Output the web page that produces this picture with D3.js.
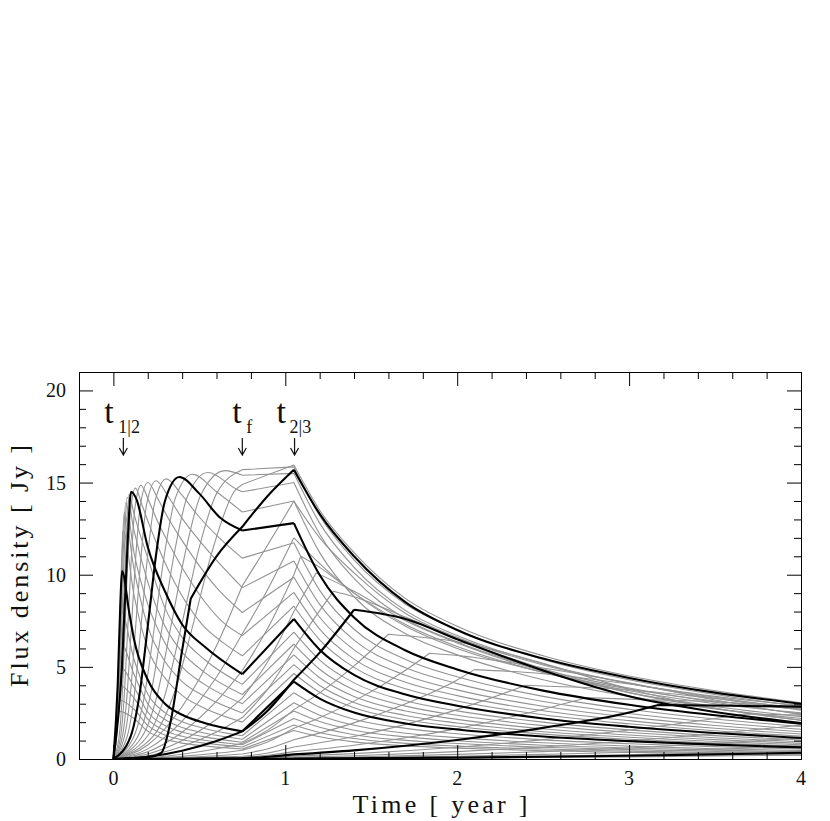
<!DOCTYPE html>
<html><head><meta charset="utf-8">
<script src="https://cdn.jsdelivr.net/npm/d3@7"></script>
<style>body{margin:0;background:#fff}</style>
</head><body>
<svg id="chart" width="830" height="821"></svg>
<script>
// ---------------- DATA (time [yr], flux density [Jy]) ----------------
const xMajorTicks = [0, 1, 2, 3, 4];
const yMajorTicks = [0, 5, 10, 15, 20];
const markerTimes = [0.058, 0.75, 1.054];
const markerSubs = ["1|2", "f", "2|3"];

// very high frequency light curves (grey)
const greyUltra = [
  [[0,0],[0.016,0.91],[0.0256,2.08],[0.032,2.6],[0.12,2.2],[0.2,1.51],[0.3,1.08],[0.4,0.86],[0.53,0.71],[0.75,0.54],[1.05,1.55],[1.2,1.21],[1.4,0.93],[1.7,0.71],[2.0,0.59],[2.5,0.45],[3.0,0.36],[3.5,0.29],[4.0,0.23]],
  [[0,0],[0.017,1.12],[0.027,2.56],[0.034,3.2],[0.12,2.7],[0.2,1.82],[0.3,1.3],[0.4,1.04],[0.53,0.86],[0.75,0.65],[1.05,1.85],[1.2,1.44],[1.4,1.11],[1.7,0.85],[2.0,0.70],[2.5,0.54],[3.0,0.43],[3.5,0.34],[4.0,0.28]],
  [[0,0],[0.0185,1.4],[0.0296,3.2],[0.037,4.0],[0.12,3.3],[0.2,2.16],[0.3,1.54],[0.4,1.23],[0.53,1.02],[0.75,0.77],[1.05,2.2],[1.2,1.72],[1.4,1.32],[1.7,1.01],[2.0,0.84],[2.5,0.64],[3.0,0.51],[3.5,0.41],[4.0,0.33]],
  [[0,0],[0.02,1.75],[0.032,4.0],[0.04,5.0],[0.12,3.9],[0.2,2.55],[0.3,1.82],[0.4,1.46],[0.53,1.2],[0.75,0.91],[1.05,2.6],[1.2,2.03],[1.4,1.56],[1.7,1.2],[2.0,0.99],[2.5,0.75],[3.0,0.6],[3.5,0.48],[4.0,0.39]],
  [[0,0],[0.0215,2.2],[0.0344,5.04],[0.043,6.3],[0.12,4.6],[0.2,3.0],[0.3,2.14],[0.4,1.71],[0.53,1.41],[0.75,1.07],[1.05,3.05],[1.2,2.38],[1.4,1.83],[1.7,1.4],[2.0,1.16],[2.5,0.88],[3.0,0.7],[3.5,0.56],[4.0,0.46]],
  [[0,0],[0.023,2.8],[0.0368,6.4],[0.046,8.0],[0.12,5.4],[0.2,3.53],[0.3,2.52],[0.4,2.02],[0.53,1.66],[0.75,1.26],[1.05,3.6],[1.2,2.81],[1.4,2.16],[1.7,1.66],[2.0,1.37],[2.5,1.04],[3.0,0.83],[3.5,0.67],[4.0,0.54]]
];
const blackB1 = [[0,0],[0.025,4.0],[0.04,8.3],[0.05,10.2],[0.093,7.9],[0.12,6.5],[0.2,4.3],[0.3,3.0],[0.4,2.4],[0.53,1.95],[0.75,1.5],[1.05,4.2],[1.2,3.28],[1.4,2.52],[1.7,1.93],[2.0,1.6],[2.5,1.22],[3.0,0.97],[3.5,0.78],[4.0,0.63]];
const greyB1B2 = [
  [[0,0],[0.028,4.34],[0.045,9.9],[0.056,12.4],[0.12,8.9],[0.2,6.0],[0.3,4.4],[0.4,3.45],[0.53,2.75],[0.75,2.0],[1.05,4.64],[1.2,3.62],[1.4,2.78],[1.7,2.13],[2.0,1.76],[2.5,1.35],[3.0,1.07],[3.5,0.86],[4.0,0.7]],
  [[0,0],[0.0315,4.69],[0.05,10.7],[0.063,13.4],[0.12,10.3],[0.2,7.2],[0.3,5.3],[0.4,4.2],[0.53,3.4],[0.75,2.5],[1.05,5.12],[1.2,3.99],[1.4,3.07],[1.7,2.36],[2.0,1.95],[2.5,1.48],[3.0,1.18],[3.5,0.95],[4.0,0.77]],
  [[0,0],[0.0355,4.87],[0.057,11.1],[0.071,13.9],[0.12,11.2],[0.2,8.4],[0.3,6.3],[0.4,5.0],[0.53,4.05],[0.75,3.0],[1.05,5.65],[1.2,4.41],[1.4,3.39],[1.7,2.6],[2.0,2.15],[2.5,1.64],[3.0,1.3],[3.5,1.05],[4.0,0.85]],
  [[0,0],[0.04,4.97],[0.064,11.4],[0.08,14.2],[0.12,12.4],[0.2,9.6],[0.3,7.2],[0.4,5.8],[0.53,4.7],[0.75,3.5],[1.05,6.24],[1.2,4.87],[1.4,3.74],[1.7,2.87],[2.0,2.37],[2.5,1.81],[3.0,1.44],[3.5,1.15],[4.0,0.94]],
  [[0,0],[0.0455,5.0],[0.073,11.5],[0.091,14.35],[0.12,13.3],[0.2,10.9],[0.3,8.2],[0.4,6.6],[0.53,5.4],[0.75,4.05],[1.05,6.88],[1.2,5.37],[1.4,4.13],[1.7,3.16],[2.0,2.61],[2.5,2.0],[3.0,1.58],[3.5,1.27],[4.0,1.03]]
];
const blackB2 = [[0,0],[0.05,5.0],[0.082,11.6],[0.103,14.5],[0.134,14.1],[0.2,11.5],[0.3,9.1],[0.4,7.3],[0.53,6.1],[0.75,4.6],[1.05,7.6],[1.2,5.93],[1.4,4.56],[1.7,3.5],[2.0,2.89],[2.5,2.2],[3.0,1.75],[3.5,1.41],[4.0,1.14]];
const greyB2B3 = [
  [[0,0],[0.033,1.18],[0.05,3.23],[0.067,6.9],[0.083,10.7],[0.1,13.45],[0.128,14.7],[0.166,13.8],[0.205,12.8],[0.256,11.6],[0.384,9.1],[0.512,7.35],[0.64,6.3],[0.75,5.6],[1.05,8.29],[1.2,6.47],[1.4,4.97],[1.7,3.81],[2.0,3.15],[2.5,2.4],[3.0,1.91],[3.5,1.53],[4.0,1.24]],
  [[0,0],[0.042,1.19],[0.062,3.27],[0.083,6.98],[0.104,10.84],[0.125,13.59],[0.16,14.85],[0.208,13.96],[0.256,12.92],[0.32,11.73],[0.48,9.2],[0.64,7.4],[0.75,6.7],[1.05,9.04],[1.2,7.05],[1.4,5.42],[1.7,4.16],[2.0,3.44],[2.5,2.62],[3.0,2.08],[3.5,1.67],[4.0,1.36]],
  [[0,0],[0.052,1.2],[0.078,3.3],[0.104,7.05],[0.13,10.95],[0.156,13.7],[0.2,15.0],[0.26,14.1],[0.32,13.05],[0.4,11.85],[0.6,9.3],[0.75,7.95],[1.05,9.86],[1.2,7.69],[1.4,5.92],[1.7,4.54],[2.0,3.75],[2.5,2.86],[3.0,2.27],[3.5,1.82],[4.0,1.48]],
  [[0,0],[0.064,1.21],[0.097,3.32],[0.129,7.1],[0.161,11.0],[0.193,13.8],[0.248,15.1],[0.322,14.2],[0.397,13.1],[0.496,11.9],[0.75,9.3],[1.05,10.75],[1.2,8.39],[1.4,6.45],[1.7,4.95],[2.0,4.09],[2.5,3.12],[3.0,2.47],[3.5,1.99],[4.0,1.61]],
  [[0,0],[0.08,1.22],[0.12,3.34],[0.16,7.14],[0.2,11.1],[0.24,13.9],[0.308,15.2],[0.4,14.3],[0.493,13.2],[0.616,12.0],[0.75,10.9],[1.05,11.73],[1.2,9.15],[1.4,7.04],[1.7,5.4],[2.0,4.46],[2.5,3.4],[3.0,2.7],[3.5,2.17],[4.0,1.76]]
];
const blackB3 = [[0,0],[0.1,1.22],[0.15,3.37],[0.2,7.2],[0.25,11.2],[0.3,14.0],[0.384,15.3],[0.5,14.4],[0.62,13.1],[0.75,12.4],[1.05,12.8],[1.2,9.98],[1.4,7.68],[1.7,5.89],[2.0,4.86],[2.5,3.71],[3.0,2.94],[3.5,2.37],[4.0,1.92]];
const greyB3B4 = [
  [[0,0],[0.12,1.24],[0.18,3.4],[0.24,7.26],[0.3,11.28],[0.36,14.14],[0.46,15.45],[0.6,14.5],[0.75,13.4],[1.05,14.0],[1.2,11.2],[1.4,8.8],[1.7,6.8],[2.0,5.65],[2.5,4.3],[3.0,3.4],[3.5,2.72],[4.0,2.2]],
  [[0,0],[0.143,1.24],[0.215,3.42],[0.286,7.3],[0.358,11.35],[0.43,14.23],[0.55,15.55],[0.715,14.65],[0.75,14.5],[1.05,15.0],[1.2,12.2],[1.4,9.8],[1.7,7.6],[2.0,6.35],[2.5,4.85],[3.0,3.85],[3.5,3.08],[4.0,2.45]],
  [[0,0],[0.169,1.25],[0.254,3.44],[0.338,7.36],[0.423,11.4],[0.507,14.3],[0.65,15.65],[0.75,15.4],[1.05,15.5],[1.2,12.8],[1.4,10.4],[1.7,8.05],[2.0,6.7],[2.5,5.15],[3.0,4.1],[3.5,3.3],[4.0,2.65]],
  [[0,0],[0.2,1.26],[0.3,3.47],[0.4,7.4],[0.5,11.5],[0.6,14.4],[0.75,15.7],[1.05,15.85],[1.2,13.2],[1.4,10.8],[1.7,8.4],[2.0,7.0],[2.5,5.4],[3.0,4.3],[3.5,3.5],[4.0,2.85]],
  [[0,0],[0.234,1.27],[0.351,3.5],[0.468,7.45],[0.585,11.6],[0.702,14.5],[0.75,14.9],[1.05,15.95],[1.2,13.5],[1.4,11.2],[1.7,8.7],[2.0,7.2],[2.5,5.6],[3.0,4.5],[3.5,3.7],[4.0,3.05]]
];
const blackB4 = [[0,0],[0.2,0.1],[0.28,0.35],[0.33,1.9],[0.4,5.9],[0.45,8.7],[0.6,11.0],[0.75,12.6],[0.9,14.3],[1.05,15.7],[1.2,13.3],[1.4,11.0],[1.7,8.5],[2.0,7.0],[2.5,5.45],[3.0,4.4],[3.5,3.6],[4.0,3.0]];
const greyB4D = [
  [[0,0],[0.2,0.76],[0.4,2.85],[0.6,6.15],[0.75,9.4],[0.9,11.65],[1.05,14.0],[1.2,12.0],[1.4,10.1],[1.7,7.9],[2.0,6.6],[2.5,5.1],[3.0,4.1],[3.5,3.4],[4.0,2.9]],
  [[0,0],[0.2,0.55],[0.4,2.06],[0.6,4.45],[0.75,6.8],[0.9,9.24],[1.05,12.0],[1.2,10.6],[1.4,9.0],[1.7,7.2],[2.0,6.0],[2.5,4.7],[3.0,3.8],[3.5,3.15],[4.0,2.7]],
  [[0,0],[0.2,0.39],[0.4,1.45],[0.6,3.14],[0.75,4.8],[0.9,7.13],[1.05,10.0],[1.09,11.0],[1.2,10.4],[1.4,9.0],[1.7,7.3],[2.0,6.1],[2.5,4.7],[3.0,3.7],[3.5,3.0],[4.0,2.5]],
  [[0,0],[0.2,0.27],[0.4,1.0],[0.6,2.16],[0.75,3.3],[0.9,5.32],[1.05,8.0],[1.18,10.1],[1.4,9.1],[1.7,7.5],[2.0,6.3],[2.5,4.75],[3.0,3.6],[3.5,2.85],[4.0,2.3]],
  [[0,0],[0.2,0.18],[0.4,0.68],[0.6,1.47],[0.75,2.25],[0.9,3.82],[1.05,6.0],[1.2,8.05],[1.28,9.1],[1.4,8.8],[1.7,7.7],[2.0,6.5],[2.5,4.9],[3.0,3.6],[3.5,2.75],[4.0,2.1]]
];
const blackD = [[0,0],[0.2,0.12],[0.4,0.45],[0.6,0.98],[0.75,1.5],[0.9,2.65],[1.05,4.3],[1.2,5.77],[1.4,8.1],[1.7,7.6],[2.0,6.5],[2.5,4.8],[3.0,3.4],[3.5,2.55],[4.0,1.95]];
const greyDE = [
  [[0,0],[0.2,0.07],[0.4,0.26],[0.6,0.56],[0.75,0.85],[0.9,1.58],[1.05,2.68],[1.2,3.59],[1.4,5.05],[1.6,6.77],[2.0,6.36],[2.5,5.2],[3.0,3.8],[3.5,2.75],[4.0,2.1]],
  [[0,0],[0.4,0.145],[0.6,0.31],[0.75,0.48],[0.9,0.94],[1.05,1.67],[1.2,2.24],[1.4,3.14],[1.7,4.82],[1.84,5.74],[2.0,5.62],[2.5,4.94],[3.0,4.13],[3.5,3.2],[4.0,2.41]],
  [[0,0],[0.4,0.08],[0.6,0.18],[0.75,0.27],[0.9,0.56],[1.05,1.04],[1.4,1.96],[1.7,3.0],[2.0,4.29],[2.1,4.85],[2.5,4.63],[3.0,4.07],[3.5,3.35],[4.0,2.69]],
  [[0,0],[0.4,0.045],[0.6,0.1],[0.75,0.15],[0.9,0.33],[1.05,0.65],[1.4,1.22],[1.7,1.88],[2.0,2.68],[2.4,4.0],[2.5,3.96],[3.0,3.76],[3.5,3.28],[4.0,2.76]],
  [[0,0],[0.4,0.027],[0.75,0.088],[0.9,0.2],[1.05,0.4],[1.4,0.75],[1.7,1.15],[2.0,1.65],[2.5,2.7],[2.75,3.33],[3.0,3.25],[3.5,3.11],[4.0,2.76]]
];
const blackE = [[0,0],[0.4,0.015],[0.75,0.05],[0.9,0.12],[1.05,0.25],[1.4,0.47],[1.7,0.72],[2.0,1.03],[2.5,1.69],[3.0,2.52],[3.17,2.93],[3.5,2.9],[4.0,2.84]];
const greyLow = [
  [[0,0],[0.75,0.03],[1.05,0.156],[1.4,0.29],[2.0,0.64],[2.5,1.05],[3.0,1.57],[3.5,2.2],[3.67,2.44],[4.0,2.38]],
  [[0,0],[0.75,0.017],[1.05,0.097],[1.4,0.18],[2.0,0.4],[2.5,0.65],[3.0,0.98],[3.5,1.37],[4.0,1.84]],
  [[0,0],[0.75,0.01],[1.05,0.06],[1.4,0.11],[2.0,0.25],[2.5,0.4],[3.0,0.6],[3.5,0.85],[4.0,1.14]],
  [[0,0],[1.05,0.037],[2.0,0.15],[2.5,0.25],[3.0,0.37],[3.5,0.52],[4.0,0.7]],
  [[0,0],[1.05,0.023],[2.0,0.095],[2.5,0.155],[3.0,0.23],[3.5,0.33],[4.0,0.44]],
  [[0,0],[1.05,0.011],[2.0,0.046],[3.0,0.11],[4.0,0.21]]
];
const blackF = [[0,0],[1.05,0.018],[2.0,0.074],[2.5,0.12],[3.0,0.18],[3.5,0.25],[4.0,0.34]];

// ---------------- LAYOUT ----------------
const svg = d3.select("#chart");
const x = d3.scaleLinear().domain([-0.2, 4]).range([79, 801]);
const y = d3.scaleLinear().domain([0, 21]).range([759, 372]);
const serif = "'Liberation Serif','DejaVu Serif',serif";

const line = d3.line().x(d => x(d[0])).y(d => y(d[1])).curve(d3.curveMonotoneX);
function pathFor(pts, extra) {
  const kinks = new Set([0.75, 1.05].concat(extra || []));
  pts.forEach((p, i) => {
    if (i > 0 && i < pts.length - 1 && p[0] > 1.05 && p[1] > pts[i-1][1] && p[1] >= pts[i+1][1]) kinks.add(p[0]);
  });
  const segs = []; let cur = [pts[0]];
  for (let i = 1; i < pts.length; i++) {
    cur.push(pts[i]);
    if (kinks.has(pts[i][0]) && i < pts.length - 1) { segs.push(cur); cur = [pts[i]]; }
  }
  segs.push(cur);
  return segs.map(s => line(s)).join("");
}

svg.append("defs").append("clipPath").attr("id", "plot")
  .append("rect").attr("x", 79).attr("y", 372).attr("width", 722).attr("height", 387);

const gCurves = svg.append("g").attr("clip-path", "url(#plot)").attr("fill", "none");
const greys = [].concat(greyUltra, greyB1B2, greyB2B3, greyB3B4, greyB4D, greyDE, greyLow);
gCurves.selectAll("path.grey").data(greys).join("path").attr("class", "grey")
  .attr("d", d => pathFor(d)).attr("stroke", "#939393").attr("stroke-width", 1.1);
const blacks = [blackB1, blackB2, blackB3, blackB4, blackD, blackE, blackF];
gCurves.selectAll("path.black").data(blacks).join("path").attr("class", "black")
  .attr("d", d => pathFor(d, d === blackB4 ? [0.45] : [])).attr("stroke", "#000").attr("stroke-width", 2.1)
  .attr("stroke-linejoin", "round");

// axes (ticks inward on all four sides)
const xMinor = d3.range(1, 20).map(i => i * 0.2).filter(v => Math.abs(v - Math.round(v)) > 1e-6);
const yMinor = d3.range(1, 21).filter(v => v % 5 !== 0);
function styleAxis(g) { g.selectAll("path,line").attr("stroke", "#000").attr("stroke-width", 1); g.selectAll("text").remove(); }
svg.append("g").attr("transform", "translate(0,759)").call(d3.axisBottom(x).tickValues(xMajorTicks).tickSize(-14).tickSizeOuter(0)).call(styleAxis);
svg.append("g").attr("transform", "translate(0,759)").call(d3.axisBottom(x).tickValues(xMinor).tickSize(-7).tickSizeOuter(0)).call(styleAxis);
svg.append("g").attr("transform", "translate(0,372)").call(d3.axisTop(x).tickValues(xMajorTicks).tickSize(-14).tickSizeOuter(0)).call(styleAxis);
svg.append("g").attr("transform", "translate(0,372)").call(d3.axisTop(x).tickValues(xMinor).tickSize(-7).tickSizeOuter(0)).call(styleAxis);
svg.append("g").attr("transform", "translate(79,0)").call(d3.axisLeft(y).tickValues(yMajorTicks).tickSize(-14).tickSizeOuter(0)).call(styleAxis);
svg.append("g").attr("transform", "translate(79,0)").call(d3.axisLeft(y).tickValues(yMinor).tickSize(-7).tickSizeOuter(0)).call(styleAxis);
svg.append("g").attr("transform", "translate(801,0)").call(d3.axisRight(y).tickValues(yMajorTicks).tickSize(-14).tickSizeOuter(0)).call(styleAxis);
svg.append("g").attr("transform", "translate(801,0)").call(d3.axisRight(y).tickValues(yMinor).tickSize(-7).tickSizeOuter(0)).call(styleAxis);

// tick labels
svg.append("g").selectAll("text").data(xMajorTicks).join("text")
  .attr("x", d => x(d)).attr("y", 785).attr("text-anchor", "middle")
  .attr("font-family", serif).attr("font-size", 20).attr("fill", "#111").text(d => d);
svg.append("g").selectAll("text").data(yMajorTicks).join("text")
  .attr("x", 66).attr("y", d => y(d) + 7).attr("text-anchor", "end")
  .attr("font-family", serif).attr("font-size", 20).attr("fill", "#111").text(d => d);

// axis titles
svg.append("text").attr("x", 440).attr("y", 813).attr("text-anchor", "middle")
  .attr("font-family", serif).attr("font-size", 26).attr("fill", "#111")
  .attr("textLength", 175).attr("lengthAdjust", "spacing").text("Time [ year ]");
svg.append("text").attr("transform", "translate(28,566) rotate(-90)").attr("text-anchor", "middle")
  .attr("font-family", serif).attr("font-size", 26).attr("fill", "#111")
  .attr("textLength", 242).attr("lengthAdjust", "spacing").text("Flux density [ Jy ]");

// markers t_1|2, t_f, t_2|3 with arrows
const tOffsets = [-19, -10, -18], subOffsets = [-5, 4, -5];
markerTimes.forEach((t, i) => {
  const ax = x(t);
  svg.append("text").attr("x", ax + tOffsets[i]).attr("y", 423)
    .attr("font-family", serif).attr("font-size", 34).attr("fill", "#111").text("t");
  svg.append("text").attr("x", ax + subOffsets[i]).attr("y", 433)
    .attr("font-family", serif).attr("font-size", 18).attr("fill", "#111").text(markerSubs[i]);
  svg.append("path").attr("d", `M${ax},438V455M${ax-4},448L${ax},455L${ax+4},448`)
    .attr("fill", "none").attr("stroke", "#111").attr("stroke-width", 1.2);
});
</script>
</body></html>
